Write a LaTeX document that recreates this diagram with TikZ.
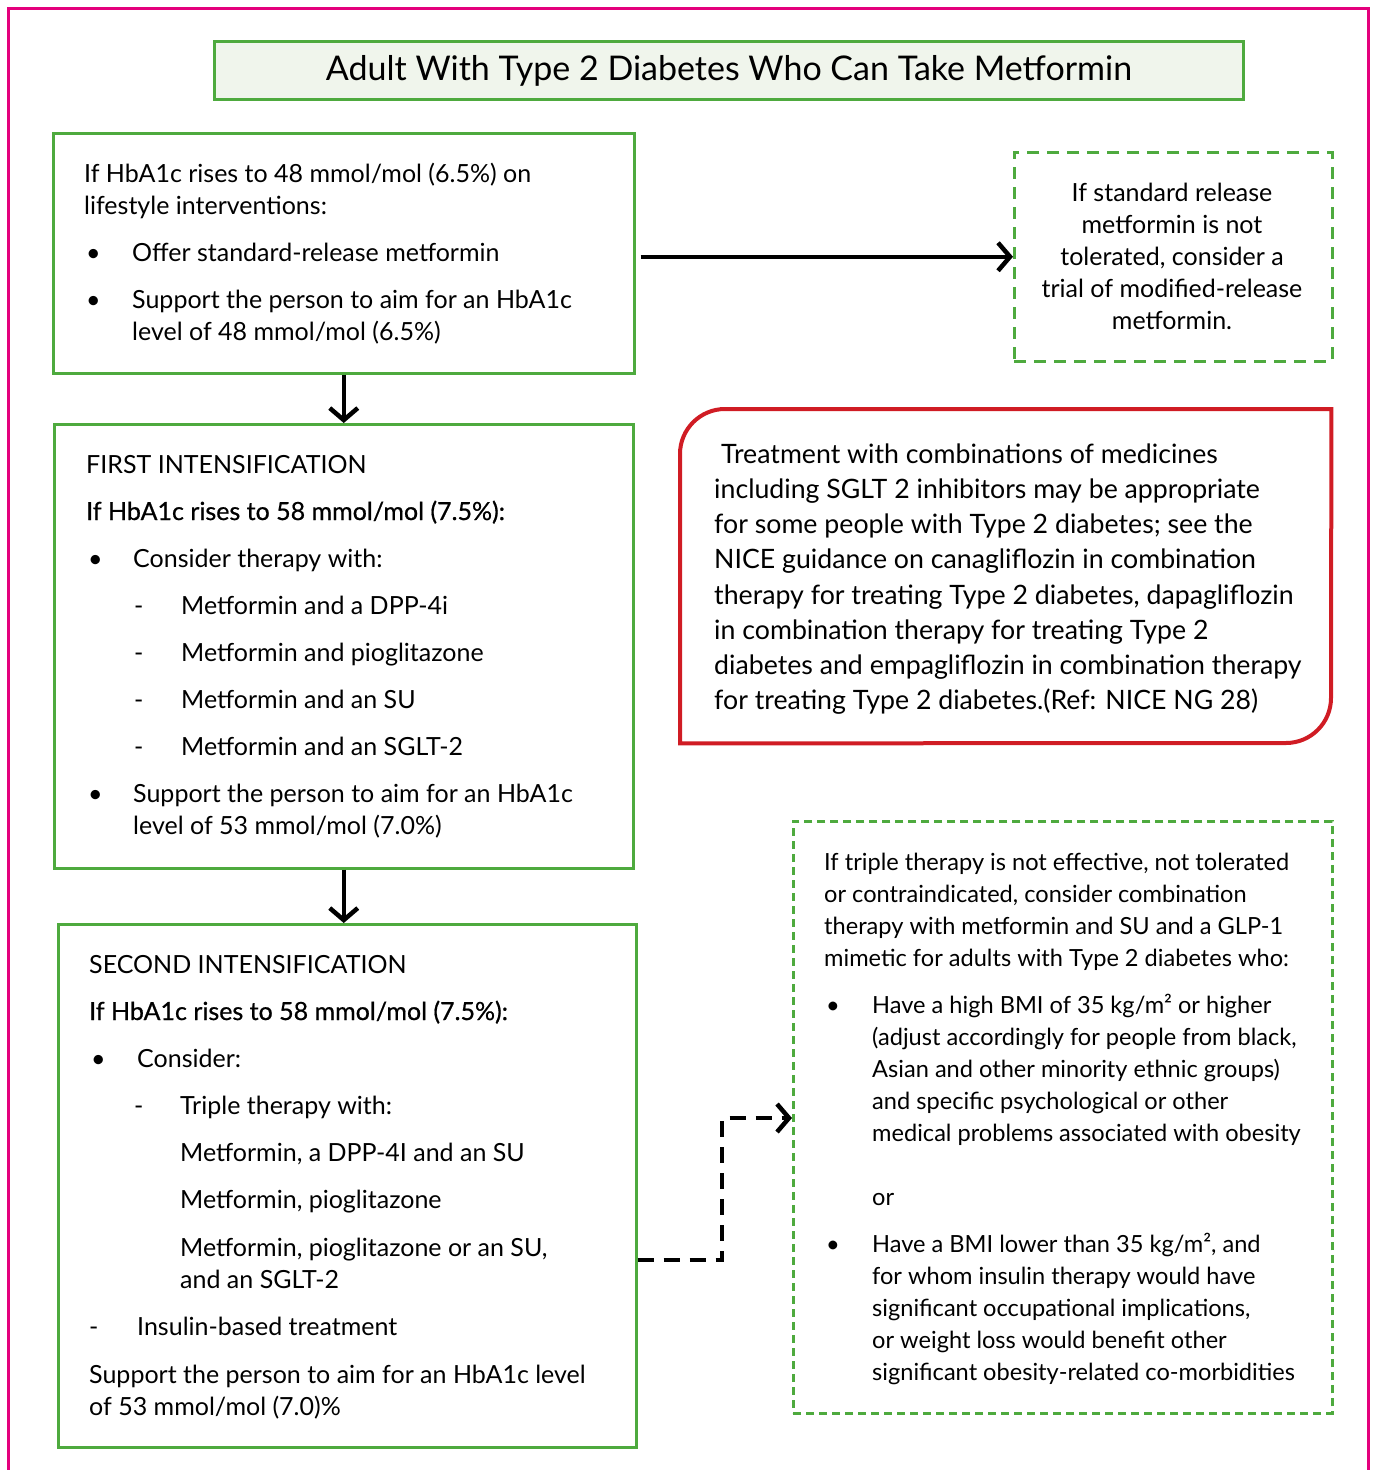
\documentclass[tikz,border=0pt]{standalone}
\usepackage{fontspec}
\setmainfont{Lato}
\usetikzlibrary{arrows.meta}

\definecolor{boxgreen}{RGB}{78,170,62}
\definecolor{titlefill}{RGB}{240,245,236}
\definecolor{framepink}{RGB}{228,0,124}
\definecolor{notered}{RGB}{208,28,36}

\newcounter{lnc}
% one line of text, placed by its baseline start
\newcommand\Ln[4][]{\stepcounter{lnc}\node[txt,#1] (line\arabic{lnc}) at (#2,#3) {#4};}

\tikzset{
  txt/.style={anchor=base west, inner sep=0pt, font=\fontsize{25}{30}\selectfont},
  ctxt/.style={txt, anchor=base},
  note/.style={txt, font=\fontsize{26.7}{32}\selectfont},
  small/.style={txt, font=\fontsize{23.6}{28}\selectfont},
  strong/.style={font=\fontsize{25}{30}\selectfont\addfontfeature{FakeBold=0.7}},
  stepbox/.style={draw=boxgreen, line width=2.5pt, rectangle, anchor=north west, inner sep=0pt},
  sidebox/.style={stepbox, dashed, dash pattern=on 12pt off 8pt},
  sidebox2/.style={stepbox, dash pattern=on 8pt off 5pt},
  flow/.style={line width=4.5pt, -{Straight Barb[length=12pt,width=28pt,line width=4.5pt]}},
  flowdash/.style={flow, dash pattern=on 16pt off 10pt},
}

\begin{document}
\begin{tikzpicture}[x=1pt,y=-1pt]
\useasboundingbox (0,0) rectangle (1375,1470);

% outer frame
\draw[framepink, line width=3pt] (8,1470) -- (8,8) -- (1368,8) -- (1368,1470);

% title
\node[stepbox, line width=3pt, fill=titlefill, minimum width=1029pt, minimum height=58pt] (title) at (213,40) {};
\node[font=\fontsize{34}{40}\selectfont, inner sep=0pt] (titletext) at (title.center) {Adult With Type 2 Diabetes Who Can Take Metformin};

% step boxes
\node[stepbox, minimum width=581pt, minimum height=240pt] (start) at (52,132) {};
\node[stepbox, minimum width=579pt, minimum height=444pt] (first) at (53,423) {};
\node[stepbox, minimum width=578pt, minimum height=523pt] (second) at (57,923) {};

% side boxes
\node[sidebox, minimum width=318pt, minimum height=209pt] (release) at (1013,151) {};
\node[sidebox2, minimum width=539pt, minimum height=592pt] (glp) at (792,820) {};
\node[rectangle, anchor=north west, inner sep=0pt, minimum width=651pt, minimum height=334pt] (sglt) at (680,409) {};
\draw[notered, line width=4pt] (sglt.south west) -- (680,454) arc(180:270:45) -- (sglt.north east) -- (1331,698) arc(0:90:45) -- cycle;

% connectors
\draw[flow] (start.south) -- (start.south |- first.north);
\draw[flow] (first.south) -- (first.south |- second.north);
\draw[flow] (start.east |- release.west) ++(5,0) -- (release.west);
\coordinate (elbow) at (722,1260);
\coordinate (entry) at (792,1118);
\draw[flowdash] (second.east |- elbow) -- (elbow) |- (entry);

% text: starting box
\Ln{84}{182}{If HbA1c rises to 48 mmol/mol (6.5\%) on}
\Ln{84}{214}{lifestyle interventions:}
\Ln{86}{261}{•}\Ln{132}{261}{Offer standard-release metformin}
\Ln{86}{308}{•}\Ln{132}{308}{Support the person to aim for an HbA1c}
\Ln{132}{340}{level of 48 mmol/mol (6.5\%)}

% text: first intensification
\Ln{86}{473}{FIRST INTENSIFICATION}
\Ln[strong]{86}{520}{If HbA1c rises to 58 mmol/mol (7.5\%):}
\Ln{88}{567}{•}\Ln{133}{567}{Consider therapy with:}
\Ln{134}{614}{-}\Ln{181}{614}{Metformin and a DPP-4i}
\Ln{134}{661}{-}\Ln{181}{661}{Metformin and pioglitazone}
\Ln{134}{708}{-}\Ln{181}{708}{Metformin and an SU}
\Ln{134}{755}{-}\Ln{181}{755}{Metformin and an SGLT-2}
\Ln{88}{802}{•}\Ln{133}{802}{Support the person to aim for an HbA1c}
\Ln{133}{834}{level of 53 mmol/mol (7.0\%)}

% text: second intensification
\Ln{89}{973}{SECOND INTENSIFICATION}
\Ln[strong]{89}{1020}{If HbA1c rises to 58 mmol/mol (7.5\%):}
\Ln{91}{1067}{•}\Ln{137}{1067}{Consider:}
\Ln{134}{1114}{-}\Ln{180}{1114}{Triple therapy with:}
\Ln{180}{1161}{Metformin, a DPP-4I and an SU}
\Ln{180}{1208}{Metformin, pioglitazone}
\Ln{180}{1256}{Metformin, pioglitazone or an SU,}
\Ln{180}{1288}{and an SGLT-2}
\Ln{89}{1335}{-}\Ln{137}{1335}{Insulin-based treatment}
\Ln{89}{1383}{Support the person to aim for an HbA1c level}
\Ln{89}{1415}{of 53 mmol/mol (7.0)\%}

% text: modified-release box
\Ln[ctxt]{1172}{201}{If standard release}
\Ln[ctxt]{1172}{233}{metformin is not}
\Ln[ctxt]{1172}{265}{tolerated, consider a}
\Ln[ctxt]{1172}{297}{trial of modified-release}
\Ln[ctxt]{1172}{329}{metformin.}

% text: SGLT-2 note
\Ln[note]{721}{463}{Treatment with combinations of medicines}
\Ln[note]{714}{498}{including SGLT 2 inhibitors may be appropriate}
\Ln[note]{714}{533}{for some people with Type 2 diabetes; see the}
\Ln[note]{714}{568}{NICE guidance on canagliflozin in combination}
\Ln[note]{714}{604}{therapy for treating Type 2 diabetes, dapagliflozin}
\Ln[note]{714}{639}{in combination therapy for treating Type 2}
\Ln[note]{714}{674}{diabetes and empagliflozin in combination therapy}
\Ln[note]{714}{709}{for treating Type 2 diabetes.(Ref: NICE NG 28)}

% text: GLP-1 box
\Ln[small]{824}{870}{If triple therapy is not effective, not tolerated}
\Ln[small]{824}{902}{or contraindicated, consider combination}
\Ln[small]{824}{934}{therapy with metformin and SU and a GLP-1}
\Ln[small]{824}{966}{mimetic for adults with Type 2 diabetes who:}
\Ln[small]{826}{1013}{•}\Ln[small]{872}{1013}{Have a high BMI of 35 kg/m² or higher}
\Ln[small]{872}{1045}{(adjust accordingly for people from black,}
\Ln[small]{872}{1077}{Asian and other minority ethnic groups)}
\Ln[small]{872}{1109}{and specific psychological or other}
\Ln[small]{872}{1141}{medical problems associated with obesity}
\Ln[small]{872}{1205}{or}
\Ln[small]{826}{1252}{•}\Ln[small]{872}{1252}{Have a BMI lower than 35 kg/m², and}
\Ln[small]{872}{1284}{for whom insulin therapy would have}
\Ln[small]{872}{1316}{significant occupational implications,}
\Ln[small]{872}{1348}{or weight loss would benefit other}
\Ln[small]{872}{1380}{significant obesity-related co-morbidities}
\end{tikzpicture}
\end{document}
